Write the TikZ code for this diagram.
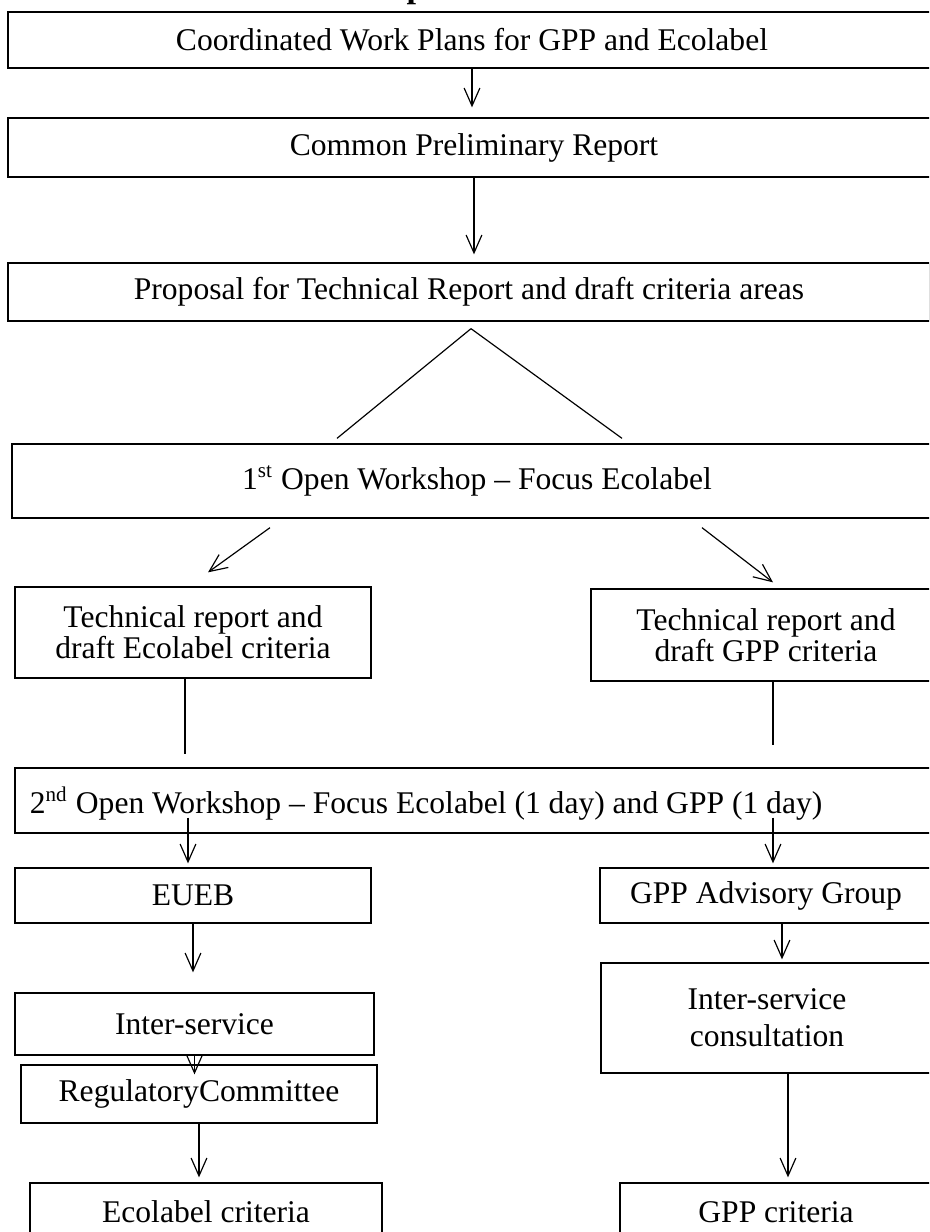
\documentclass[tikz,border=0pt]{standalone}
\usepackage{fontspec}
\setmainfont{Liberation Serif}
\usetikzlibrary{arrows.meta,calc}
\begin{document}
\begin{tikzpicture}[x=0.38pt,y=-0.38pt,
  box/.style={draw,line width=0.5pt,inner sep=0pt,align=center,font=\fontsize{12}{14}\selectfont},
  area/.style n args={4}{minimum width={(#3-#1)*0.38pt},minimum height={(#4-#2)*0.38pt},at={({(#1+#3)/2},{(#2+#4)/2})}},
  tight/.style={font=\fontsize{12}{11.8}\selectfont},
  link/.style={line width=0.45pt},
  arr/.style={link,-{Straight Barb[length=6.8pt,width=6pt]}},
  lbl/.style={inner sep=0pt,font=\fontsize{12}{14}\selectfont}]
\useasboundingbox (0,0) rectangle (929,1232);
\clip (0,0) rectangle (929,1232);
\node[lbl,anchor=base west,font=\fontsize{13}{15}\selectfont\bfseries] (title) at (406,-3) {p};
\node[box,area={8}{12}{936}{68}] (b1) {Coordinated Work Plans for GPP and Ecolabel};
\node[box,area={8}{118}{940}{177}] (b2) {Common Preliminary Report};
\node[box,area={8}{263}{930}{321}] (b3) {Proposal for Technical Report and draft criteria areas};
\node[box,area={12}{444}{942}{518}] (b4) {1\textsuperscript{st} Open Workshop – Focus Ecolabel};
\node[box,tight,area={15}{587}{371}{678}] (b5) {Technical report and\\draft Ecolabel criteria};
\node[box,tight,area={591}{589}{941}{681}] (b6) {Technical report and\\draft GPP criteria};
\node[box,area={15}{768}{940}{833}] (b7) {};
\node[lbl,anchor=west] (t7) at ($(b7.west)+(15,3)$) {2\textsuperscript{nd} Open Workshop – Focus Ecolabel (1 day) and GPP (1 day)};
\node[box,area={15}{868}{371}{923}] (b8) {EUEB};
\node[box,area={600}{868}{932}{923}] (b9) {GPP Advisory Group};
\node[box,area={15}{993}{374}{1055}] (b10) {Inter-service};
\node[box,area={21}{1065}{377}{1123}] (b11) {RegulatoryCommittee};
\node[box,area={30}{1183}{382}{1241}] (b12) {Ecolabel criteria};
\node[box,area={601}{963}{933}{1073}] (b13) {Inter-service\\consultation};
\node[box,area={620}{1183}{932}{1241}] (b14) {GPP criteria};
% connectors
\draw[arr] (b1.south) -- ($(b1.south |- b2.north)+(0,-10)$);
\draw[arr] (b2.south) -- ($(b2.south |- b3.north)+(0,-8)$);
\coordinate (apex) at ($(b3.south)+(2,7)$);
\draw[link] (apex) -- ($(b4.north)+(-140,-5)$);
\draw[link] (apex) -- ($(b4.north)+(145,-5)$);
\draw[arr] ($(b4.south)+(-207,9)$) -- ($(b5.north)+(15,-14)$);
\draw[arr] ($(b4.south)+(225,9)$) -- ($(b6.north)+(7,-6)$);
\draw[link] ($(b5.south)+(-8,0)$) -- ++(0,75);
\draw[link] ($(b6.south)+(7,0)$) -- ++(0,63);
\draw[arr] ($(b8.north |- b7.south)+(-5,-16)$) -- ($(b8.north)+(-5,-4)$);
\draw[arr] ($(b9.north |- b7.south)+(7,-16)$) -- ($(b9.north)+(7,-4)$);
\draw[arr] (b8.south) -- ($(b8.south |- b10.north)+(0,-20)$);
\draw[arr] (b10.south) -- ($(b10.south |- b11.north)+(0,10)$);
\draw[arr] (b11.south) -- ($(b11.south |- b12.north)+(0,-5)$);
\draw[arr] ($(b9.south)+(16,0)$) -- ($(b9.south |- b13.north)+(16,-3)$);
\draw[arr] ($(b13.south)+(21,0)$) -- ($(b13.south |- b14.north)+(21,-5)$);
\end{tikzpicture}
\end{document}
